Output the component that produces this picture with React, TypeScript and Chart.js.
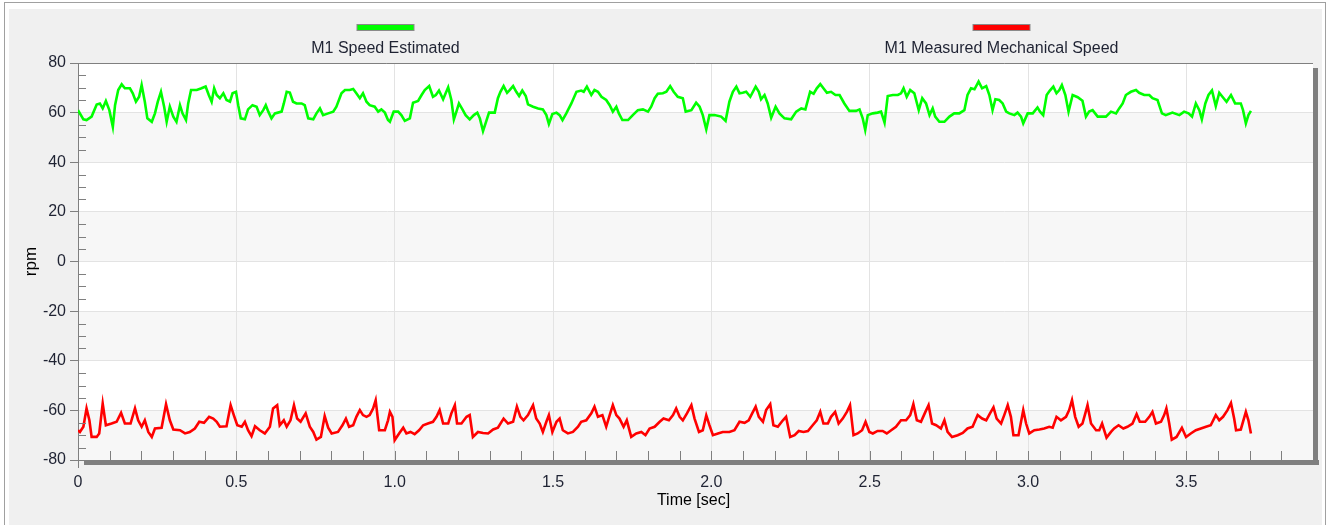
import React, { useEffect, useRef } from "react";
import { Chart, registerables } from "chart.js";

Chart.register(...registerables);

// ---------- data ----------
const seriesNames = ["M1 Speed Estimated", "M1 Measured Mechanical Speed"];
const xTickLabelsFmt = (v: number) => (v === 0 ? "0" : v.toFixed(1));
const yTicks = [-80, -60, -40, -20, 0, 20, 40, 60, 80];

const greenT = [
  0, 0.017, 0.027, 0.043, 0.059, 0.069, 0.078, 0.088, 0.099, 0.11,
  0.117, 0.127, 0.138, 0.148, 0.164, 0.173, 0.183, 0.193, 0.201, 0.211,
  0.219, 0.233, 0.243, 0.252, 0.262, 0.272, 0.28, 0.29, 0.301, 0.311,
  0.322, 0.33, 0.341, 0.348, 0.357, 0.375, 0.39, 0.403, 0.413, 0.422,
  0.43, 0.438, 0.448, 0.459, 0.469, 0.48, 0.488, 0.499, 0.506, 0.514,
  0.527, 0.537, 0.551, 0.564, 0.574, 0.585, 0.593, 0.601, 0.611, 0.622,
  0.643, 0.65, 0.659, 0.669, 0.679, 0.69, 0.706, 0.716, 0.727, 0.743,
  0.753, 0.764, 0.774, 0.79, 0.806, 0.816, 0.832, 0.843, 0.858, 0.869,
  0.879, 0.89, 0.9, 0.911, 0.921, 0.937, 0.948, 0.958, 0.969, 0.979,
  0.985, 0.997, 1.011, 1.021, 1.032, 1.048, 1.058, 1.074, 1.085, 1.095,
  1.109, 1.121, 1.13, 1.14, 1.153, 1.161, 1.169, 1.179, 1.187, 1.195,
  1.203, 1.214, 1.224, 1.237, 1.25, 1.261, 1.269, 1.279, 1.287, 1.298,
  1.316, 1.326, 1.334, 1.344, 1.355, 1.363, 1.374, 1.384, 1.393, 1.403,
  1.414, 1.421, 1.437, 1.453, 1.468, 1.479, 1.487, 1.498, 1.511, 1.521,
  1.53, 1.542, 1.558, 1.574, 1.589, 1.597, 1.607, 1.621, 1.631, 1.642,
  1.653, 1.668, 1.679, 1.689, 1.7, 1.708, 1.719, 1.737, 1.752, 1.768,
  1.784, 1.8, 1.81, 1.821, 1.831, 1.847, 1.858, 1.87, 1.881, 1.894,
  1.91, 1.919, 1.937, 1.952, 1.963, 1.973, 1.984, 1.994, 2.01, 2.031,
  2.045, 2.057, 2.068, 2.079, 2.089, 2.099, 2.11, 2.123, 2.14, 2.15,
  2.157, 2.168, 2.178, 2.189, 2.203, 2.215, 2.231, 2.252, 2.268, 2.284,
  2.297, 2.305, 2.312, 2.323, 2.333, 2.344, 2.354, 2.365, 2.378, 2.392,
  2.405, 2.42, 2.436, 2.457, 2.468, 2.478, 2.486, 2.494, 2.51, 2.525,
  2.536, 2.547, 2.557, 2.573, 2.589, 2.599, 2.607, 2.617, 2.628, 2.641,
  2.655, 2.666, 2.678, 2.689, 2.699, 2.707, 2.72, 2.736, 2.752, 2.767,
  2.783, 2.799, 2.809, 2.82, 2.831, 2.844, 2.855, 2.868, 2.878, 2.888,
  2.897, 2.909, 2.92, 2.931, 2.941, 2.957, 2.967, 2.978, 2.985, 2.999,
  3.015, 3.03, 3.038, 3.048, 3.059, 3.069, 3.08, 3.09, 3.099, 3.107,
  3.118, 3.128, 3.141, 3.157, 3.172, 3.183, 3.193, 3.204, 3.22, 3.246,
  3.262, 3.278, 3.288, 3.299, 3.309, 3.325, 3.341, 3.351, 3.367, 3.383,
  3.393, 3.409, 3.423, 3.435, 3.456, 3.478, 3.493, 3.507, 3.518, 3.53,
  3.541, 3.549, 3.56, 3.57, 3.581, 3.593, 3.604, 3.614, 3.627, 3.641,
  3.654, 3.672, 3.679, 3.688, 3.696, 3.704,
];
const greenV = [
  61, 57.3, 57, 58.4, 63.3, 63.7, 61.7, 64.7, 61, 54.3,
  63, 69.1, 71.4, 69.8, 69.8, 67.8, 64.4, 66.4, 71.1, 64.4,
  57.7, 56.3, 59.7, 64.4, 68.4, 62.4, 56.3, 62.4, 58.4, 56.3,
  63, 59.7, 57, 63.7, 69.1, 69.1, 69.8, 70.5, 67.1, 64.4,
  69.8, 67.1, 65.8, 67.8, 65.1, 64.4, 67.8, 68.4, 63, 57.7,
  57.3, 61.3, 63, 62.4, 59, 61, 63, 60.4, 57.7, 59.7,
  60.4, 63.7, 68.4, 68.1, 64.4, 63.7, 63.7, 63, 57.7, 57.3,
  59.7, 61.7, 59, 59.7, 60.4, 62.4, 67.8, 69.1, 69.1, 69.5,
  67.8, 65.8, 67.8, 64.4, 63, 62.4, 60.4, 61.3, 60, 57,
  56.3, 60.4, 60.4, 59, 56.7, 57.7, 64, 64.7, 67.1, 69.1,
  70.7, 66.4, 67.1, 68.9, 65.4, 67.8, 70.2, 65.1, 57.3, 60.4,
  63.7, 61.3, 59, 57.3, 59, 60, 57.7, 52.6, 55.7, 60,
  60, 65.8, 68.4, 70.7, 68, 69.1, 70.7, 68.4, 66.7, 68.9,
  66.7, 63.3, 62.4, 61.7, 61.3, 59, 55.4, 59.4, 60, 59,
  57, 59.7, 63.7, 68.4, 68.9, 68.4, 70.5, 67.1, 69.1, 68.4,
  66.4, 65.1, 63, 60.4, 62.4, 59.7, 57, 57, 59, 61,
  61.3, 60.4, 62.4, 65.8, 67.6, 67.8, 68.4, 70.7, 68.4, 66.4,
  65.8, 60.4, 61, 64, 62.4, 59, 53.3, 59, 59, 58.4,
  56.7, 64.4, 68.4, 70.5, 67.8, 68, 68.4, 66.4, 70.5, 68.4,
  65.4, 67.1, 63.7, 57.9, 62.4, 59.7, 57.7, 57.3, 60.4, 61.7,
  61.3, 65.1, 68.4, 67.6, 69.8, 71.5, 69.8, 68, 68.4, 67.1,
  67.1, 63.7, 60.7, 60.7, 61.3, 57.7, 53, 59, 59.7, 60,
  60.4, 56, 66.7, 67.1, 67.1, 67.8, 69.8, 66.4, 69.1, 67.8,
  61, 65.8, 63.7, 59, 61.7, 58.4, 56.3, 56.3, 58.4, 59.7,
  59.7, 61, 67.1, 69.8, 69.4, 72.5, 69.8, 70.7, 67.1, 61,
  65.4, 65.1, 63.7, 60.4, 59.7, 59, 60, 58.4, 55.7, 59.7,
  59.7, 62.1, 60.4, 59, 67.1, 68.9, 70.5, 67.8, 69.1, 71.1,
  67.1, 60.4, 67.1, 66.2, 64.8, 58.4, 60.4, 61, 58.4, 58.4,
  60.4, 59.7, 61.7, 63.7, 67.1, 68.4, 69.1, 68, 67.1, 67.1,
  65.8, 65.1, 59.7, 59, 60, 59, 60.4, 59.7, 58.4, 63.7,
  61, 57.3, 63.7, 67.1, 68.9, 62.6, 68, 66.4, 64.4, 67.1,
  63.7, 63.7, 61, 55.7, 59, 60.7,
];

const redT = [
  0, 0.006, 0.017, 0.027, 0.036, 0.043, 0.059, 0.067, 0.078, 0.088,
  0.106, 0.122, 0.136, 0.148, 0.166, 0.18, 0.19, 0.201, 0.211, 0.222,
  0.233, 0.243, 0.264, 0.278, 0.29, 0.301, 0.322, 0.338, 0.353, 0.369,
  0.383, 0.398, 0.414, 0.427, 0.438, 0.448, 0.469, 0.482, 0.492, 0.503,
  0.517, 0.527, 0.537, 0.548, 0.559, 0.574, 0.59, 0.606, 0.616, 0.629,
  0.637, 0.65, 0.659, 0.671, 0.682, 0.692, 0.703, 0.719, 0.732, 0.743,
  0.753, 0.767, 0.779, 0.79, 0.801, 0.821, 0.835, 0.846, 0.856, 0.869,
  0.879, 0.89, 0.9, 0.911, 0.921, 0.932, 0.94, 0.951, 0.969, 0.979,
  0.985, 0.993, 1.0, 1.014, 1.027, 1.037, 1.05, 1.063, 1.077, 1.09,
  1.105, 1.121, 1.132, 1.142, 1.153, 1.169, 1.179, 1.19, 1.197, 1.211,
  1.227, 1.237, 1.247, 1.263, 1.279, 1.295, 1.311, 1.326, 1.344, 1.358,
  1.374, 1.386, 1.397, 1.407, 1.421, 1.437, 1.447, 1.458, 1.468, 1.479,
  1.487, 1.498, 1.511, 1.521, 1.531, 1.547, 1.563, 1.579, 1.589, 1.605,
  1.621, 1.631, 1.642, 1.656, 1.668, 1.679, 1.689, 1.7, 1.71, 1.723,
  1.733, 1.747, 1.763, 1.779, 1.792, 1.805, 1.821, 1.837, 1.849, 1.866,
  1.879, 1.889, 1.9, 1.91, 1.923, 1.937, 1.947, 1.961, 1.973, 1.984,
  1.994, 2.005, 2.021, 2.036, 2.057, 2.073, 2.089, 2.105, 2.118, 2.129,
  2.14, 2.15, 2.163, 2.173, 2.186, 2.196, 2.21, 2.226, 2.236, 2.249,
  2.263, 2.276, 2.291, 2.305, 2.32, 2.333, 2.344, 2.354, 2.368, 2.378,
  2.391, 2.402, 2.415, 2.428, 2.438, 2.449, 2.462, 2.476, 2.487, 2.499,
  2.51, 2.525, 2.541, 2.554, 2.568, 2.583, 2.599, 2.615, 2.628, 2.638,
  2.649, 2.662, 2.676, 2.686, 2.697, 2.71, 2.725, 2.736, 2.746, 2.76,
  2.778, 2.794, 2.809, 2.825, 2.841, 2.855, 2.868, 2.88, 2.891, 2.901,
  2.915, 2.925, 2.936, 2.946, 2.954, 2.97, 2.985, 2.994, 3.004, 3.02,
  3.036, 3.051, 3.067, 3.078, 3.09, 3.104, 3.12, 3.13, 3.139, 3.149,
  3.16, 3.172, 3.181, 3.188, 3.199, 3.215, 3.225, 3.234, 3.248, 3.262,
  3.272, 3.286, 3.301, 3.314, 3.33, 3.343, 3.353, 3.37, 3.383, 3.393,
  3.404, 3.42, 3.43, 3.437, 3.446, 3.454, 3.469, 3.486, 3.499, 3.514,
  3.53, 3.546, 3.562, 3.577, 3.593, 3.604, 3.616, 3.63, 3.641, 3.651,
  3.657, 3.672, 3.688, 3.696, 3.704,
];
const redV = [
  -68, -68.7, -66.6, -59.2, -64, -70.7, -70.7, -69.3, -57.2, -66,
  -65.3, -64.6, -61, -65.3, -65.3, -59.2, -64, -66.6, -64, -68.7,
  -70.7, -67.3, -67, -57.5, -64, -67.7, -68, -69.3, -68.7, -67.3,
  -64.6, -65, -62.6, -63.3, -64.6, -66.6, -66.4, -57.9, -61.9, -66,
  -66.6, -64.6, -68, -70.4, -66.4, -68, -69.3, -66.6, -59.2, -57.9,
  -66, -64, -66.6, -64, -57.9, -63.3, -64.6, -61.2, -66.6, -68.7,
  -71.8, -70.7, -62.3, -67, -69.3, -68.7, -66, -63.3, -66.6, -66,
  -62.6, -59.9, -61.9, -62.6, -61.9, -59.2, -55.9, -68, -68, -64,
  -60.6, -62.6, -72, -69.3, -67, -69.3, -68.7, -69.6, -68, -66,
  -65.3, -64.6, -62.6, -59.9, -65.3, -65.3, -61.2, -57.9, -65.3, -65.3,
  -62.6, -61.9, -70.7, -68.7, -69.1, -69.3, -67.7, -67, -63.3, -65.3,
  -64.6, -58.5, -62.6, -64, -61.9, -57.9, -63.3, -65.3, -68.7, -64.6,
  -61.9, -68.7, -64.6, -63.3, -68, -69.3, -68.7, -66.6, -64.6, -64,
  -61.2, -58.5, -62.6, -61.9, -66.6, -61.9, -57.9, -61.9, -63.3, -66.6,
  -64, -70.7, -69.3, -68.7, -70, -67.3, -66.6, -64.6, -63.3, -64,
  -61.9, -59.2, -62.6, -64, -61.2, -57.9, -63.3, -68.7, -68, -62,
  -66, -70, -69.3, -68.7, -68.7, -68, -64.6, -65, -64, -61.2,
  -58.5, -62.6, -64.6, -59.9, -57.5, -66, -66.6, -64, -62.6, -70.7,
  -70, -68.3, -68.7, -68.3, -66, -64, -60.6, -65.3, -65.3, -62.6,
  -60.6, -65.3, -63.3, -60.6, -57.9, -70, -69.3, -68, -64.6, -68.7,
  -69.3, -68.3, -68.3, -69.3, -68, -66.6, -64, -64, -61.9, -57.5,
  -64, -64.6, -60.6, -57.9, -65.3, -66, -67.3, -64, -68.7, -70.7,
  -70, -69.1, -67.3, -66.6, -61.9, -63.3, -64, -61.2, -58.8, -63.3,
  -65.3, -61.9, -57.9, -62.6, -70, -70, -59.9, -65.3, -69.3, -68,
  -67.7, -67.3, -66.6, -67, -62.6, -64, -62.6, -59.9, -55.9, -62.6,
  -66.6, -65.3, -61.2, -57.9, -65.3, -68, -68, -65.3, -71, -68.7,
  -67.3, -66, -67.3, -66.6, -65.3, -61.5, -64.6, -64.6, -62.6, -60.6,
  -65.3, -64.6, -61.9, -59.2, -65.3, -71.8, -70.7, -67, -70.7, -69.3,
  -68, -67.3, -66.6, -66, -61.9, -64, -62.6, -59.9, -57, -63.3,
  -68, -67.7, -60.6, -64, -69.3,
];

// ---------- styling ----------
const FONT = "'Liberation Sans', Arial, sans-serif";
const TEXT = "#1f2333";
const AXIS = "#7f7f7f";
const GREEN = "#00ff00";
const RED = "#ff0000";

const framePlugin = {
  id: "framePlugin",
  beforeDraw(chart: any) {
    const { ctx, chartArea: ca, scales } = chart;
    const W = chart.width;
    const H = chart.height;
    ctx.save();
    ctx.fillStyle = "#ffffff";
    ctx.fillRect(0, 0, W, H);
    ctx.strokeStyle = "#a0a0a0";
    ctx.lineWidth = 1;
    ctx.strokeRect(4.5, 2.5, W - 9, H + 10);
    ctx.fillStyle = "#f0f0f0";
    ctx.fillRect(9, 9, W - 17, H);
    // plot background with alternate bands
    ctx.fillStyle = "#ffffff";
    ctx.fillRect(ca.left, ca.top, ca.right - ca.left, ca.bottom - ca.top);
    const y = scales.y;
    ctx.fillStyle = "#f7f7f7";
    for (let v = -80; v < 80; v += 40) {
      const y1 = y.getPixelForValue(v + 20);
      const y2 = y.getPixelForValue(v);
      ctx.fillRect(ca.left, y1, ca.right - ca.left, y2 - y1);
    }
    // drop shadow
    ctx.fillStyle = "#7f7f7f";
    ctx.fillRect(ca.right, ca.top + 5, 5, ca.bottom - ca.top);
    ctx.fillRect(ca.left + 6, ca.bottom, ca.right - ca.left, 5);
    ctx.restore();
  },
  afterDraw(chart: any) {
    const { ctx, chartArea: ca, scales } = chart;
    const x = scales.x;
    const y = scales.y;
    ctx.save();
    ctx.strokeStyle = AXIS;
    ctx.lineWidth = 1;
    // top border
    ctx.beginPath();
    ctx.moveTo(ca.left, Math.round(ca.top) + 0.5);
    ctx.lineTo(ca.right, Math.round(ca.top) + 0.5);
    ctx.stroke();
    // x minor ticks (inside, every 0.1)
    ctx.beginPath();
    for (let i = 1; i <= 39; i++) {
      const px = Math.round(x.getPixelForValue(i / 10)) + 0.5;
      ctx.moveTo(px, ca.bottom);
      ctx.lineTo(px, ca.bottom - 9);
    }
    // y minor ticks (inside, every 5)
    for (let v = -75; v < 80; v += 5) {
      if (v % 20 === 0) continue;
      const py = Math.round(y.getPixelForValue(v)) + 0.5;
      ctx.moveTo(ca.left, py);
      ctx.lineTo(ca.left + 8, py);
    }
    // extend y axis line below
    ctx.moveTo(Math.round(ca.left) + 0.5, ca.bottom);
    ctx.lineTo(Math.round(ca.left) + 0.5, ca.bottom + 8);
    ctx.stroke();

    // legend
    const centers = [385.5, 1001.5];
    const colors = [GREEN, RED];
    ctx.font = `16px ${FONT}`;
    ctx.textAlign = "center";
    ctx.textBaseline = "middle";
    centers.forEach((cx, i) => {
      ctx.fillStyle = "#8a8a8a";
      ctx.fillRect(cx - 29, 24, 58, 7);
      ctx.fillStyle = colors[i];
      ctx.fillRect(cx - 28, 25, 56, 5);
      ctx.fillStyle = TEXT;
      ctx.fillText(seriesNames[i], cx, 49);
    });

    // axis titles
    ctx.fillStyle = "#000000";
    ctx.fillText("Time [sec]", (ca.left + ca.right) / 2 - 2, 501);
    ctx.translate(31, (ca.top + ca.bottom) / 2);
    ctx.rotate(-Math.PI / 2);
    ctx.font = `17px ${FONT}`;
    ctx.fillText("rpm", 0, 0);
    ctx.restore();
  },
};

export default function App() {
  const canvasRef = useRef<HTMLCanvasElement | null>(null);

  useEffect(() => {
    if (!canvasRef.current) return;
    const greenData = greenT.map((t, i) => ({ x: t, y: greenV[i] }));
    const redData = redT.map((t, i) => ({ x: t, y: redV[i] }));
    const chart = new Chart(canvasRef.current, {
      type: "line",
      data: {
        datasets: [
          {
            label: seriesNames[0],
            data: greenData,
            borderColor: GREEN,
            backgroundColor: GREEN,
            borderWidth: 2.6,
            pointRadius: 0,
            tension: 0,
          },
          {
            label: seriesNames[1],
            data: redData,
            borderColor: RED,
            backgroundColor: RED,
            borderWidth: 2.6,
            pointRadius: 0,
            tension: 0,
          },
        ],
      },
      options: {
        animation: false,
        responsive: false,
        devicePixelRatio: 1,
        layout: { padding: { left: 0, top: 63, right: 17, bottom: 0 } },
        plugins: {
          legend: { display: false },
          tooltip: { enabled: false },
          title: { display: false },
        },
        scales: {
          x: {
            type: "linear",
            min: 0,
            max: 3.9,
            afterFit: (s: any) => {
              s.height = 65;
            },
            afterBuildTicks: (s: any) => {
              s.ticks = s.ticks.filter((t: any) => t.value <= 3.5 + 1e-9);
            },
            ticks: {
              stepSize: 0.5,
              includeBounds: false,
              autoSkip: false,
              maxRotation: 0,
              padding: 13,
              color: TEXT,
              font: { family: FONT, size: 16 },
              callback: (v: any) => xTickLabelsFmt(Number(v)),
            },
            grid: { color: "#e3e3e3", drawTicks: false },
            border: { color: AXIS, width: 1 },
          },
          y: {
            min: yTicks[0],
            max: yTicks[yTicks.length - 1],
            afterFit: (s: any) => {
              s.width = 78;
            },
            ticks: {
              stepSize: 20,
              padding: 4,
              color: TEXT,
              font: { family: FONT, size: 16 },
            },
            grid: { color: "#e3e3e3", tickColor: AXIS, tickLength: 8 },
            border: { color: AXIS, width: 1 },
          },
        },
      },
      plugins: [framePlugin],
    });
    return () => chart.destroy();
  }, []);

  return (
    <div style={{ position: "absolute", left: 0, top: 0, width: 1330, height: 525 }}>
      <canvas ref={canvasRef} width={1330} height={525} style={{ display: "block" }} />
    </div>
  );
}
